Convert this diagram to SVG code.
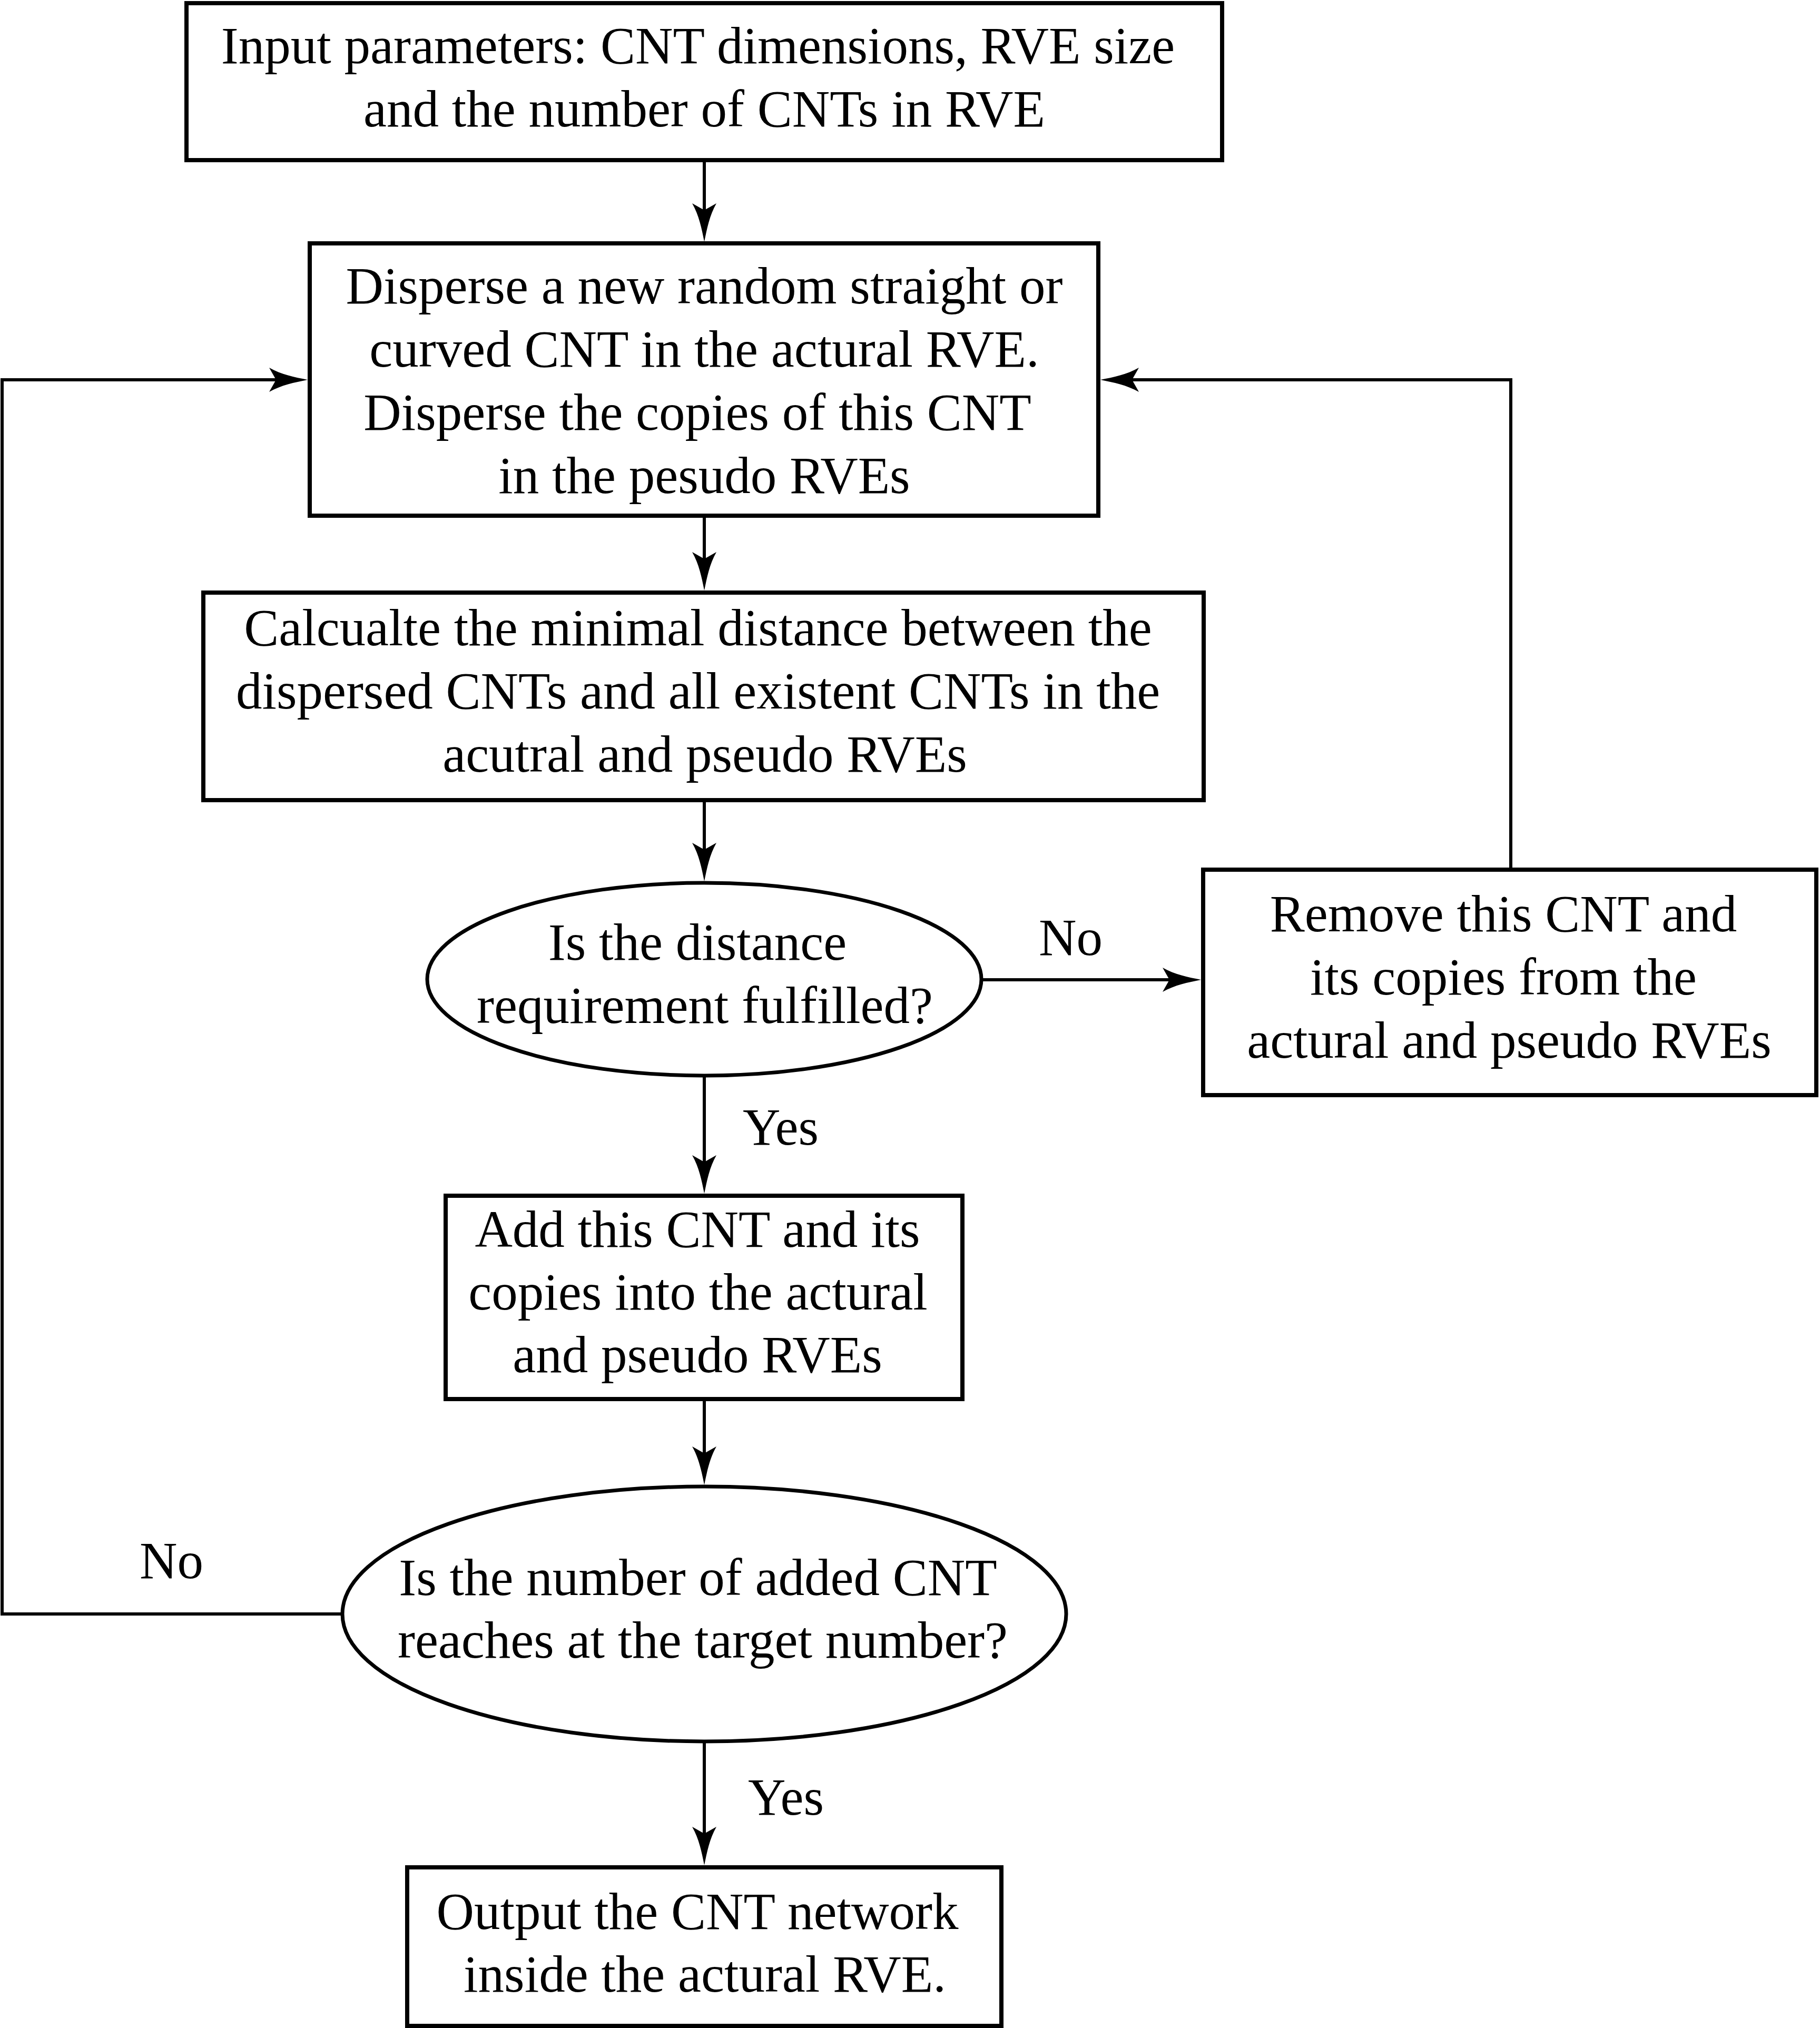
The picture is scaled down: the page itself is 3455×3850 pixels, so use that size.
<svg xmlns="http://www.w3.org/2000/svg" width="3455" height="3850" viewBox="0 0 3455 3850">
<style>
.box{fill:#fff;stroke:#000;stroke-width:8}
.ell{fill:#fff;stroke:#000;stroke-width:7}
.con{fill:none;stroke:#000;stroke-width:6}
text{font-family:"Liberation Serif","Times New Roman",serif;font-size:99px;fill:#000}
.c{text-anchor:middle}
</style>
<defs>
<marker id="ah" viewBox="-74 -25 76 50" refX="-60" refY="0" markerWidth="76" markerHeight="50" markerUnits="userSpaceOnUse" orient="auto">
<path d="M0,0 C-25,-5 -50,-10 -73,-23 L-60,0 L-73,23 C-50,10 -25,5 0,0 Z" fill="#000"/>
</marker>
</defs>
<rect width="3455" height="3850" fill="#fff"/>
<g id="connectors">
<path class="con" d="M1337,308 V399" marker-end="url(#ah)"/>
<path class="con" d="M1337,983 V1061" marker-end="url(#ah)"/>
<path class="con" d="M1337,1523 V1613" marker-end="url(#ah)"/>
<path class="con" d="M1337,2042 V2206" marker-end="url(#ah)"/>
<path class="con" d="M1337,2660 V2759" marker-end="url(#ah)"/>
<path class="con" d="M1337,3306 V3481" marker-end="url(#ah)"/>
<path class="con" d="M1863,1860 H2220" marker-end="url(#ah)"/>
<path class="con" d="M2868,1647 V721 H2149" marker-end="url(#ah)"/>
<path class="con" d="M650,3064 H4 V721 H524" marker-end="url(#ah)"/>
<text x="1972" y="1813">No</text>
<text x="1410" y="2173">Yes</text>
<text x="265" y="2996">No</text>
<text x="1420" y="3445">Yes</text>
</g>
<g id="input">
<rect class="box" x="354" y="6" width="1966" height="298"/>
<text class="c" x="1325" y="120">Input parameters: CNT dimensions, RVE size</text>
<text class="c" x="1337" y="240">and the number of CNTs in RVE</text>
</g>
<g id="disperse">
<rect class="box" x="588" y="462" width="1497" height="517"/>
<text class="c" x="1337" y="576">Disperse a new random straight or</text>
<text class="c" x="1337" y="696">curved CNT in the actural RVE.</text>
<text class="c" x="1324" y="816">Disperse the copies of this CNT</text>
<text class="c" x="1337" y="936">in the pesudo RVEs</text>
</g>
<g id="calculate">
<rect class="box" x="386" y="1125" width="1899" height="394"/>
<text class="c" x="1325" y="1225">Calcualte the minimal distance between the</text>
<text class="c" x="1325" y="1345">dispersed CNTs and all existent CNTs in the</text>
<text class="c" x="1338" y="1465">acutral and pseudo RVEs</text>
</g>
<g id="decision1">
<ellipse class="ell" cx="1337" cy="1859" rx="526" ry="183"/>
<text class="c" x="1324" y="1822">Is the distance</text>
<text class="c" x="1338" y="1942">requirement fulfilled?</text>
</g>
<g id="remove">
<rect class="box" x="2284" y="1651" width="1164" height="428"/>
<text class="c" x="2854" y="1768">Remove this CNT and</text>
<text class="c" x="2854" y="1888">its copies from the</text>
<text class="c" x="2865" y="2008">actural and pseudo RVEs</text>
</g>
<g id="add">
<rect class="box" x="846" y="2270" width="981" height="386"/>
<text class="c" x="1324" y="2367">Add this CNT and its</text>
<text class="c" x="1325" y="2486">copies into the actural</text>
<text class="c" x="1324" y="2605">and pseudo RVEs</text>
</g>
<g id="decision2">
<ellipse class="ell" cx="1337" cy="3064" rx="687" ry="242"/>
<text class="c" x="1325" y="3028">Is the number of added CNT</text>
<text class="c" x="1334" y="3147">reaches at the target number?</text>
</g>
<g id="output">
<rect class="box" x="773" y="3545" width="1128" height="301"/>
<text class="c" x="1324" y="3662">Output the CNT network</text>
<text class="c" x="1338" y="3781">inside the actural RVE.</text>
</g>
</svg>
